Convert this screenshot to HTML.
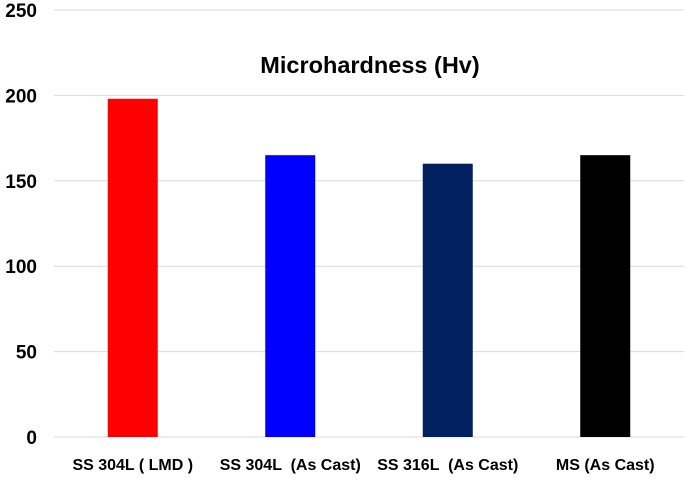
<!DOCTYPE html>
<html><head><meta charset="utf-8"><style>
body{margin:0;background:#fff;}
svg{display:block;font-family:"Liberation Sans",sans-serif;}
</style></head><body>
<svg id="chart" width="685" height="481">
<text x="370" y="73" text-anchor="middle" font-size="23.5" font-weight="bold" fill="#000">Microhardness (Hv)</text>
<g id="grid"></g><g id="bars"></g><g id="labels"></g>
</svg>
<script>
const categories = ["SS 304L ( LMD )", "SS 304L  (As Cast)", "SS 316L  (As Cast)", "MS (As Cast)"];
const values = [198, 165, 160, 165];
const colors = ["#ff0000", "#0000ff", "#00205f", "#000000"];
const ticks = [0, 50, 100, 150, 200, 250];
const NS = "http://www.w3.org/2000/svg";
const x0 = 54, x1 = 684, yTop = 10, yBot = 437, yMax = 250;
function y(v){ return yBot - v / yMax * (yBot - yTop); }
const band = (x1 - x0) / categories.length;
function xc(i){ return x0 + band * (i + 0.5); }
const grid = document.getElementById('grid');
ticks.forEach(t => {
  const l = document.createElementNS(NS, 'line');
  l.setAttribute('x1', x0); l.setAttribute('x2', x1);
  l.setAttribute('y1', y(t)); l.setAttribute('y2', y(t));
  l.setAttribute('stroke', '#d9d9d9'); l.setAttribute('stroke-width', '1');
  
  
  grid.appendChild(l);
  const tx = document.createElementNS(NS, 'text');
  tx.setAttribute('x', 37); tx.setAttribute('y', y(t) + 7);
  tx.setAttribute('text-anchor', 'end'); tx.setAttribute('font-size', '19'); tx.setAttribute('font-weight', 'bold');
  tx.textContent = t;
  
  
  grid.appendChild(tx);
});
const bars = document.getElementById('bars'), labels = document.getElementById('labels');
categories.forEach((c, i) => {
  const r = document.createElementNS(NS, 'rect');
  r.setAttribute('x', xc(i) - 25); r.setAttribute('width', 50);
  r.setAttribute('y', y(values[i])); r.setAttribute('height', yBot - y(values[i]));
  r.setAttribute('fill', colors[i]);
  
  
  bars.appendChild(r);
  const t = document.createElementNS(NS, 'text');
  t.setAttribute('x', xc(i)); t.setAttribute('y', 470);
  t.setAttribute('text-anchor', 'middle'); t.setAttribute('font-size', '16'); t.setAttribute('font-weight', 'bold');
  t.setAttribute('xml:space', 'preserve'); t.style.whiteSpace = 'pre';
  t.textContent = c;
  
  
  labels.appendChild(t);
});
</script>
</body></html>
